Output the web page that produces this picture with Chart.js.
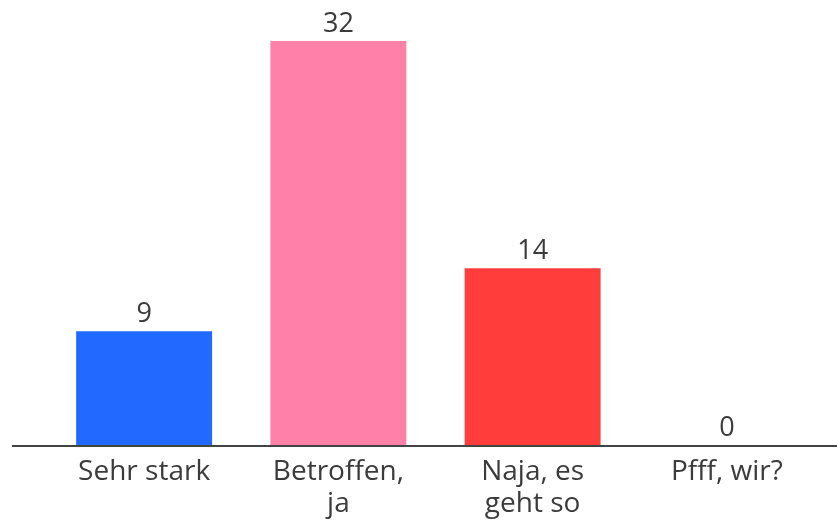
<!DOCTYPE html>
<html>
<head>
<meta charset="utf-8">
<script src="https://cdn.jsdelivr.net/npm/chart.js@4"></script>
<style>
  html, body { margin: 0; padding: 0; background: #fff; }
  #wrap { width: 837px; height: 521px; }
</style>
</head>
<body>
<div id="wrap"><canvas id="chart"></canvas></div>
<script>
// chart data
const categories = [['Sehr stark'], ['Betroffen,', 'ja'], ['Naja, es', 'geht so'], ['Pfff, wir?']];
const values = [9, 32, 14, 0];
const barColors = ['#2269ff', '#ff80a9', '#ff3e3c', '#cccccc'];

const textColor = '#3b3b3b';
const fontFamily = '"Open Sans", Roboto, sans-serif';

// value labels above the bars
const valueLabels = {
    id: 'valueLabels',
    afterDatasetsDraw(chart) {
        const ctx = chart.ctx;
        const meta = chart.getDatasetMeta(0);
        ctx.save();
        ctx.fillStyle = textColor;
        ctx.font = '27px ' + fontFamily;
        ctx.textAlign = 'center';
        ctx.textBaseline = 'alphabetic';
        meta.data.forEach((bar, i) => {
            ctx.fillText(String(values[i]), bar.x, bar.y - 9);
        });
        ctx.restore();
    }
};

// baseline runs almost the full width of the canvas
const baseline = {
    id: 'baseline',
    afterDatasetsDraw(chart) {
        const ctx = chart.ctx;
        const y = chart.scales.y.getPixelForValue(0);
        ctx.save();
        ctx.strokeStyle = '#444444';
        ctx.lineWidth = 2;
        ctx.beginPath();
        ctx.moveTo(12, y + 1);
        ctx.lineTo(chart.width, y + 1);
        ctx.stroke();
        ctx.restore();
    }
};

new Chart(document.getElementById('chart'), {
    type: 'bar',
    data: {
        labels: categories,
        datasets: [{
            data: values,
            backgroundColor: barColors,
            borderWidth: 0,
            barPercentage: 0.7,
            categoryPercentage: 1.0
        }]
    },
    options: {
        responsive: true,
        maintainAspectRatio: false,
        animation: false,
        layout: { padding: { left: 47, right: 13, top: 3, bottom: 2 } },
        plugins: {
            legend: { display: false },
            tooltip: { enabled: false }
        },
        scales: {
            x: {
                grid: { display: false },
                border: { display: false },
                afterFit(scale) { scale.height = 74; },
                ticks: {
                    color: textColor,
                    padding: 3,
                    font: { family: fontFamily, size: 28, lineHeight: 1.15 },
                    maxRotation: 0,
                    autoSkip: false
                }
            },
            y: {
                display: false,
                min: 0,
                max: 35
            }
        }
    },
    plugins: [valueLabels, baseline]
});
</script>
</body>
</html>
